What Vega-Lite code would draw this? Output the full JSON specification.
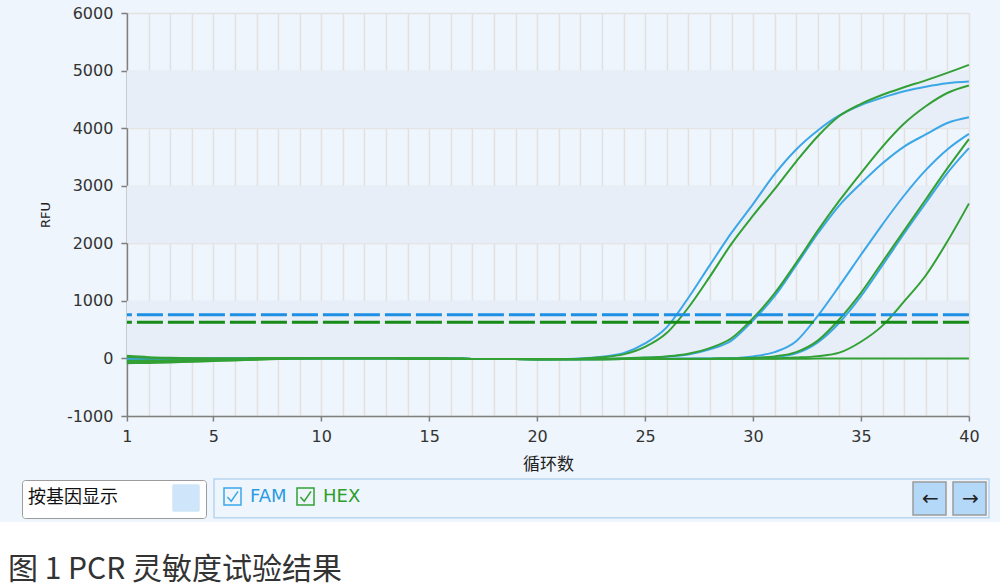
{
  "$schema": "https://vega.github.io/schema/vega-lite/v6.json",
  "background": "#EEF5FC",
  "padding": {"left": 0, "top": 5, "right": 0, "bottom": 0},
  "bounds": "full",
  "center": true,
  "spacing": 50,
  "config": {
    "font": "DejaVu Sans",
    "axis": {
      "labelFont": "DejaVu Sans",
      "labelFontSize": 16,
      "labelColor": "#333333",
      "domainColor": "#7F7F7F",
      "domainWidth": 1.5,
      "tickColor": "#7F7F7F",
      "tickWidth": 1.5,
      "gridColor": "#E3E1DF",
      "gridWidth": 1.5,
      "titleColor": "#222222",
      "titleFontWeight": "normal"
    },
    "legend": {"padding": 0}
  },
  "vconcat": [
    {
      "width": 842,
      "height": 403,
      "view": {"fill": "#EEF5FD", "stroke": null},
      "layer": [
        {
          "data": {"values": [{"lo": 4000, "hi": 5000}, {"lo": 2000, "hi": 3000}, {"lo": 0, "hi": 1000}]},
          "mark": {"type": "rect", "color": "#E7EEF7"},
          "encoding": {
            "y": {"field": "lo", "type": "quantitative", "scale": {"domain": [-1000, 6000], "nice": false, "zero": false}},
            "y2": {"field": "hi"}
          }
        },
        {
          "data": {"values": [
{"id":"F1","ch":"FAM","c":1,"v":15},{"id":"F1","ch":"FAM","c":2,"v":8},{"id":"F1","ch":"FAM","c":3,"v":3},{"id":"F1","ch":"FAM","c":4,"v":0},{"id":"F1","ch":"FAM","c":5,"v":0},{"id":"F1","ch":"FAM","c":6,"v":0},{"id":"F1","ch":"FAM","c":7,"v":2},{"id":"F1","ch":"FAM","c":8,"v":4},{"id":"F1","ch":"FAM","c":9,"v":5},{"id":"F1","ch":"FAM","c":10,"v":5},{"id":"F1","ch":"FAM","c":11,"v":5},{"id":"F1","ch":"FAM","c":12,"v":4},{"id":"F1","ch":"FAM","c":13,"v":2},{"id":"F1","ch":"FAM","c":14,"v":0},{"id":"F1","ch":"FAM","c":15,"v":-2},{"id":"F1","ch":"FAM","c":16,"v":-5},{"id":"F1","ch":"FAM","c":17,"v":-8},{"id":"F1","ch":"FAM","c":18,"v":-10},{"id":"F1","ch":"FAM","c":19,"v":-12},{"id":"F1","ch":"FAM","c":20,"v":-13},{"id":"F1","ch":"FAM","c":21,"v":-10},{"id":"F1","ch":"FAM","c":22,"v":0},{"id":"F1","ch":"FAM","c":23,"v":30},{"id":"F1","ch":"FAM","c":24,"v":90},{"id":"F1","ch":"FAM","c":25,"v":260},{"id":"F1","ch":"FAM","c":26,"v":540},{"id":"F1","ch":"FAM","c":27,"v":1050},{"id":"F1","ch":"FAM","c":28,"v":1620},{"id":"F1","ch":"FAM","c":29,"v":2180},{"id":"F1","ch":"FAM","c":30,"v":2680},{"id":"F1","ch":"FAM","c":31,"v":3200},{"id":"F1","ch":"FAM","c":32,"v":3630},{"id":"F1","ch":"FAM","c":33,"v":3960},{"id":"F1","ch":"FAM","c":34,"v":4220},{"id":"F1","ch":"FAM","c":35,"v":4400},{"id":"F1","ch":"FAM","c":36,"v":4530},{"id":"F1","ch":"FAM","c":37,"v":4640},{"id":"F1","ch":"FAM","c":38,"v":4720},{"id":"F1","ch":"FAM","c":39,"v":4780},{"id":"F1","ch":"FAM","c":40,"v":4810},
{"id":"F2","ch":"FAM","c":1,"v":-25},{"id":"F2","ch":"FAM","c":2,"v":-22},{"id":"F2","ch":"FAM","c":3,"v":-18},{"id":"F2","ch":"FAM","c":4,"v":-13},{"id":"F2","ch":"FAM","c":5,"v":-9},{"id":"F2","ch":"FAM","c":6,"v":-5},{"id":"F2","ch":"FAM","c":7,"v":0},{"id":"F2","ch":"FAM","c":8,"v":4},{"id":"F2","ch":"FAM","c":9,"v":5},{"id":"F2","ch":"FAM","c":10,"v":5},{"id":"F2","ch":"FAM","c":11,"v":5},{"id":"F2","ch":"FAM","c":12,"v":4},{"id":"F2","ch":"FAM","c":13,"v":2},{"id":"F2","ch":"FAM","c":14,"v":0},{"id":"F2","ch":"FAM","c":15,"v":-2},{"id":"F2","ch":"FAM","c":16,"v":-5},{"id":"F2","ch":"FAM","c":17,"v":-8},{"id":"F2","ch":"FAM","c":18,"v":-10},{"id":"F2","ch":"FAM","c":19,"v":-12},{"id":"F2","ch":"FAM","c":20,"v":-14},{"id":"F2","ch":"FAM","c":21,"v":-15},{"id":"F2","ch":"FAM","c":22,"v":-12},{"id":"F2","ch":"FAM","c":23,"v":-8},{"id":"F2","ch":"FAM","c":24,"v":0},{"id":"F2","ch":"FAM","c":25,"v":10},{"id":"F2","ch":"FAM","c":26,"v":30},{"id":"F2","ch":"FAM","c":27,"v":70},{"id":"F2","ch":"FAM","c":28,"v":160},{"id":"F2","ch":"FAM","c":29,"v":310},{"id":"F2","ch":"FAM","c":30,"v":660},{"id":"F2","ch":"FAM","c":31,"v":1080},{"id":"F2","ch":"FAM","c":32,"v":1620},{"id":"F2","ch":"FAM","c":33,"v":2170},{"id":"F2","ch":"FAM","c":34,"v":2660},{"id":"F2","ch":"FAM","c":35,"v":3040},{"id":"F2","ch":"FAM","c":36,"v":3390},{"id":"F2","ch":"FAM","c":37,"v":3680},{"id":"F2","ch":"FAM","c":38,"v":3890},{"id":"F2","ch":"FAM","c":39,"v":4090},{"id":"F2","ch":"FAM","c":40,"v":4190},
{"id":"F3","ch":"FAM","c":1,"v":-50},{"id":"F3","ch":"FAM","c":2,"v":-47},{"id":"F3","ch":"FAM","c":3,"v":-42},{"id":"F3","ch":"FAM","c":4,"v":-35},{"id":"F3","ch":"FAM","c":5,"v":-27},{"id":"F3","ch":"FAM","c":6,"v":-19},{"id":"F3","ch":"FAM","c":7,"v":-10},{"id":"F3","ch":"FAM","c":8,"v":-2},{"id":"F3","ch":"FAM","c":9,"v":3},{"id":"F3","ch":"FAM","c":10,"v":5},{"id":"F3","ch":"FAM","c":11,"v":5},{"id":"F3","ch":"FAM","c":12,"v":4},{"id":"F3","ch":"FAM","c":13,"v":2},{"id":"F3","ch":"FAM","c":14,"v":0},{"id":"F3","ch":"FAM","c":15,"v":-2},{"id":"F3","ch":"FAM","c":16,"v":-5},{"id":"F3","ch":"FAM","c":17,"v":-8},{"id":"F3","ch":"FAM","c":18,"v":-10},{"id":"F3","ch":"FAM","c":19,"v":-12},{"id":"F3","ch":"FAM","c":20,"v":-14},{"id":"F3","ch":"FAM","c":21,"v":-15},{"id":"F3","ch":"FAM","c":22,"v":-14},{"id":"F3","ch":"FAM","c":23,"v":-12},{"id":"F3","ch":"FAM","c":24,"v":-10},{"id":"F3","ch":"FAM","c":25,"v":-8},{"id":"F3","ch":"FAM","c":26,"v":-6},{"id":"F3","ch":"FAM","c":27,"v":-4},{"id":"F3","ch":"FAM","c":28,"v":-2},{"id":"F3","ch":"FAM","c":29,"v":5},{"id":"F3","ch":"FAM","c":30,"v":35},{"id":"F3","ch":"FAM","c":31,"v":110},{"id":"F3","ch":"FAM","c":32,"v":300},{"id":"F3","ch":"FAM","c":33,"v":740},{"id":"F3","ch":"FAM","c":34,"v":1260},{"id":"F3","ch":"FAM","c":35,"v":1800},{"id":"F3","ch":"FAM","c":36,"v":2330},{"id":"F3","ch":"FAM","c":37,"v":2830},{"id":"F3","ch":"FAM","c":38,"v":3270},{"id":"F3","ch":"FAM","c":39,"v":3630},{"id":"F3","ch":"FAM","c":40,"v":3900},
{"id":"F4","ch":"FAM","c":1,"v":0},{"id":"F4","ch":"FAM","c":2,"v":0},{"id":"F4","ch":"FAM","c":3,"v":0},{"id":"F4","ch":"FAM","c":4,"v":0},{"id":"F4","ch":"FAM","c":5,"v":0},{"id":"F4","ch":"FAM","c":6,"v":0},{"id":"F4","ch":"FAM","c":7,"v":2},{"id":"F4","ch":"FAM","c":8,"v":4},{"id":"F4","ch":"FAM","c":9,"v":5},{"id":"F4","ch":"FAM","c":10,"v":5},{"id":"F4","ch":"FAM","c":11,"v":5},{"id":"F4","ch":"FAM","c":12,"v":4},{"id":"F4","ch":"FAM","c":13,"v":2},{"id":"F4","ch":"FAM","c":14,"v":0},{"id":"F4","ch":"FAM","c":15,"v":-2},{"id":"F4","ch":"FAM","c":16,"v":-5},{"id":"F4","ch":"FAM","c":17,"v":-8},{"id":"F4","ch":"FAM","c":18,"v":-10},{"id":"F4","ch":"FAM","c":19,"v":-12},{"id":"F4","ch":"FAM","c":20,"v":-14},{"id":"F4","ch":"FAM","c":21,"v":-15},{"id":"F4","ch":"FAM","c":22,"v":-14},{"id":"F4","ch":"FAM","c":23,"v":-13},{"id":"F4","ch":"FAM","c":24,"v":-12},{"id":"F4","ch":"FAM","c":25,"v":-10},{"id":"F4","ch":"FAM","c":26,"v":-8},{"id":"F4","ch":"FAM","c":27,"v":-6},{"id":"F4","ch":"FAM","c":28,"v":-4},{"id":"F4","ch":"FAM","c":29,"v":-2},{"id":"F4","ch":"FAM","c":30,"v":5},{"id":"F4","ch":"FAM","c":31,"v":25},{"id":"F4","ch":"FAM","c":32,"v":90},{"id":"F4","ch":"FAM","c":33,"v":280},{"id":"F4","ch":"FAM","c":34,"v":620},{"id":"F4","ch":"FAM","c":35,"v":1080},{"id":"F4","ch":"FAM","c":36,"v":1620},{"id":"F4","ch":"FAM","c":37,"v":2170},{"id":"F4","ch":"FAM","c":38,"v":2700},{"id":"F4","ch":"FAM","c":39,"v":3220},{"id":"F4","ch":"FAM","c":40,"v":3653},
{"id":"H1","ch":"HEX","c":1,"v":45},{"id":"H1","ch":"HEX","c":2,"v":22},{"id":"H1","ch":"HEX","c":3,"v":10},{"id":"H1","ch":"HEX","c":4,"v":4},{"id":"H1","ch":"HEX","c":5,"v":0},{"id":"H1","ch":"HEX","c":6,"v":0},{"id":"H1","ch":"HEX","c":7,"v":2},{"id":"H1","ch":"HEX","c":8,"v":4},{"id":"H1","ch":"HEX","c":9,"v":5},{"id":"H1","ch":"HEX","c":10,"v":5},{"id":"H1","ch":"HEX","c":11,"v":5},{"id":"H1","ch":"HEX","c":12,"v":4},{"id":"H1","ch":"HEX","c":13,"v":2},{"id":"H1","ch":"HEX","c":14,"v":0},{"id":"H1","ch":"HEX","c":15,"v":-2},{"id":"H1","ch":"HEX","c":16,"v":-5},{"id":"H1","ch":"HEX","c":17,"v":-8},{"id":"H1","ch":"HEX","c":18,"v":-10},{"id":"H1","ch":"HEX","c":19,"v":-12},{"id":"H1","ch":"HEX","c":20,"v":-14},{"id":"H1","ch":"HEX","c":21,"v":-12},{"id":"H1","ch":"HEX","c":22,"v":-5},{"id":"H1","ch":"HEX","c":23,"v":20},{"id":"H1","ch":"HEX","c":24,"v":70},{"id":"H1","ch":"HEX","c":25,"v":200},{"id":"H1","ch":"HEX","c":26,"v":440},{"id":"H1","ch":"HEX","c":27,"v":880},{"id":"H1","ch":"HEX","c":28,"v":1420},{"id":"H1","ch":"HEX","c":29,"v":1990},{"id":"H1","ch":"HEX","c":30,"v":2480},{"id":"H1","ch":"HEX","c":31,"v":2940},{"id":"H1","ch":"HEX","c":32,"v":3420},{"id":"H1","ch":"HEX","c":33,"v":3860},{"id":"H1","ch":"HEX","c":34,"v":4210},{"id":"H1","ch":"HEX","c":35,"v":4420},{"id":"H1","ch":"HEX","c":36,"v":4580},{"id":"H1","ch":"HEX","c":37,"v":4710},{"id":"H1","ch":"HEX","c":38,"v":4830},{"id":"H1","ch":"HEX","c":39,"v":4960},{"id":"H1","ch":"HEX","c":40,"v":5100},
{"id":"H2","ch":"HEX","c":1,"v":-82},{"id":"H2","ch":"HEX","c":2,"v":-78},{"id":"H2","ch":"HEX","c":3,"v":-70},{"id":"H2","ch":"HEX","c":4,"v":-58},{"id":"H2","ch":"HEX","c":5,"v":-46},{"id":"H2","ch":"HEX","c":6,"v":-34},{"id":"H2","ch":"HEX","c":7,"v":-21},{"id":"H2","ch":"HEX","c":8,"v":-10},{"id":"H2","ch":"HEX","c":9,"v":-1},{"id":"H2","ch":"HEX","c":10,"v":5},{"id":"H2","ch":"HEX","c":11,"v":5},{"id":"H2","ch":"HEX","c":12,"v":4},{"id":"H2","ch":"HEX","c":13,"v":2},{"id":"H2","ch":"HEX","c":14,"v":0},{"id":"H2","ch":"HEX","c":15,"v":-2},{"id":"H2","ch":"HEX","c":16,"v":-5},{"id":"H2","ch":"HEX","c":17,"v":-8},{"id":"H2","ch":"HEX","c":18,"v":-10},{"id":"H2","ch":"HEX","c":19,"v":-12},{"id":"H2","ch":"HEX","c":20,"v":-14},{"id":"H2","ch":"HEX","c":21,"v":-15},{"id":"H2","ch":"HEX","c":22,"v":-12},{"id":"H2","ch":"HEX","c":23,"v":-6},{"id":"H2","ch":"HEX","c":24,"v":2},{"id":"H2","ch":"HEX","c":25,"v":15},{"id":"H2","ch":"HEX","c":26,"v":35},{"id":"H2","ch":"HEX","c":27,"v":80},{"id":"H2","ch":"HEX","c":28,"v":180},{"id":"H2","ch":"HEX","c":29,"v":350},{"id":"H2","ch":"HEX","c":30,"v":700},{"id":"H2","ch":"HEX","c":31,"v":1130},{"id":"H2","ch":"HEX","c":32,"v":1660},{"id":"H2","ch":"HEX","c":33,"v":2220},{"id":"H2","ch":"HEX","c":34,"v":2740},{"id":"H2","ch":"HEX","c":35,"v":3220},{"id":"H2","ch":"HEX","c":36,"v":3680},{"id":"H2","ch":"HEX","c":37,"v":4080},{"id":"H2","ch":"HEX","c":38,"v":4380},{"id":"H2","ch":"HEX","c":39,"v":4610},{"id":"H2","ch":"HEX","c":40,"v":4740},
{"id":"H3","ch":"HEX","c":1,"v":-65},{"id":"H3","ch":"HEX","c":2,"v":-62},{"id":"H3","ch":"HEX","c":3,"v":-57},{"id":"H3","ch":"HEX","c":4,"v":-48},{"id":"H3","ch":"HEX","c":5,"v":-38},{"id":"H3","ch":"HEX","c":6,"v":-28},{"id":"H3","ch":"HEX","c":7,"v":-17},{"id":"H3","ch":"HEX","c":8,"v":-7},{"id":"H3","ch":"HEX","c":9,"v":0},{"id":"H3","ch":"HEX","c":10,"v":5},{"id":"H3","ch":"HEX","c":11,"v":5},{"id":"H3","ch":"HEX","c":12,"v":4},{"id":"H3","ch":"HEX","c":13,"v":2},{"id":"H3","ch":"HEX","c":14,"v":0},{"id":"H3","ch":"HEX","c":15,"v":-2},{"id":"H3","ch":"HEX","c":16,"v":-5},{"id":"H3","ch":"HEX","c":17,"v":-8},{"id":"H3","ch":"HEX","c":18,"v":-10},{"id":"H3","ch":"HEX","c":19,"v":-12},{"id":"H3","ch":"HEX","c":20,"v":-14},{"id":"H3","ch":"HEX","c":21,"v":-15},{"id":"H3","ch":"HEX","c":22,"v":-14},{"id":"H3","ch":"HEX","c":23,"v":-13},{"id":"H3","ch":"HEX","c":24,"v":-12},{"id":"H3","ch":"HEX","c":25,"v":-10},{"id":"H3","ch":"HEX","c":26,"v":-8},{"id":"H3","ch":"HEX","c":27,"v":-6},{"id":"H3","ch":"HEX","c":28,"v":-4},{"id":"H3","ch":"HEX","c":29,"v":0},{"id":"H3","ch":"HEX","c":30,"v":10},{"id":"H3","ch":"HEX","c":31,"v":35},{"id":"H3","ch":"HEX","c":32,"v":110},{"id":"H3","ch":"HEX","c":33,"v":310},{"id":"H3","ch":"HEX","c":34,"v":680},{"id":"H3","ch":"HEX","c":35,"v":1140},{"id":"H3","ch":"HEX","c":36,"v":1680},{"id":"H3","ch":"HEX","c":37,"v":2220},{"id":"H3","ch":"HEX","c":38,"v":2760},{"id":"H3","ch":"HEX","c":39,"v":3300},{"id":"H3","ch":"HEX","c":40,"v":3810},
{"id":"H4","ch":"HEX","c":1,"v":25},{"id":"H4","ch":"HEX","c":2,"v":12},{"id":"H4","ch":"HEX","c":3,"v":5},{"id":"H4","ch":"HEX","c":4,"v":0},{"id":"H4","ch":"HEX","c":5,"v":0},{"id":"H4","ch":"HEX","c":6,"v":0},{"id":"H4","ch":"HEX","c":7,"v":2},{"id":"H4","ch":"HEX","c":8,"v":4},{"id":"H4","ch":"HEX","c":9,"v":5},{"id":"H4","ch":"HEX","c":10,"v":5},{"id":"H4","ch":"HEX","c":11,"v":5},{"id":"H4","ch":"HEX","c":12,"v":4},{"id":"H4","ch":"HEX","c":13,"v":2},{"id":"H4","ch":"HEX","c":14,"v":0},{"id":"H4","ch":"HEX","c":15,"v":-2},{"id":"H4","ch":"HEX","c":16,"v":-5},{"id":"H4","ch":"HEX","c":17,"v":-8},{"id":"H4","ch":"HEX","c":18,"v":-10},{"id":"H4","ch":"HEX","c":19,"v":-12},{"id":"H4","ch":"HEX","c":20,"v":-14},{"id":"H4","ch":"HEX","c":21,"v":-15},{"id":"H4","ch":"HEX","c":22,"v":-14},{"id":"H4","ch":"HEX","c":23,"v":-13},{"id":"H4","ch":"HEX","c":24,"v":-12},{"id":"H4","ch":"HEX","c":25,"v":-11},{"id":"H4","ch":"HEX","c":26,"v":-10},{"id":"H4","ch":"HEX","c":27,"v":-9},{"id":"H4","ch":"HEX","c":28,"v":-8},{"id":"H4","ch":"HEX","c":29,"v":-6},{"id":"H4","ch":"HEX","c":30,"v":-4},{"id":"H4","ch":"HEX","c":31,"v":0},{"id":"H4","ch":"HEX","c":32,"v":15},{"id":"H4","ch":"HEX","c":33,"v":40},{"id":"H4","ch":"HEX","c":34,"v":100},{"id":"H4","ch":"HEX","c":35,"v":290},{"id":"H4","ch":"HEX","c":36,"v":570},{"id":"H4","ch":"HEX","c":37,"v":990},{"id":"H4","ch":"HEX","c":38,"v":1440},{"id":"H4","ch":"HEX","c":39,"v":2030},{"id":"H4","ch":"HEX","c":40,"v":2690},
{"id":"H5","ch":"HEX","c":1,"v":-40},{"id":"H5","ch":"HEX","c":2,"v":-37},{"id":"H5","ch":"HEX","c":3,"v":-32},{"id":"H5","ch":"HEX","c":4,"v":-26},{"id":"H5","ch":"HEX","c":5,"v":-19},{"id":"H5","ch":"HEX","c":6,"v":-13},{"id":"H5","ch":"HEX","c":7,"v":-6},{"id":"H5","ch":"HEX","c":8,"v":0},{"id":"H5","ch":"HEX","c":9,"v":5},{"id":"H5","ch":"HEX","c":10,"v":5},{"id":"H5","ch":"HEX","c":11,"v":5},{"id":"H5","ch":"HEX","c":12,"v":4},{"id":"H5","ch":"HEX","c":13,"v":2},{"id":"H5","ch":"HEX","c":14,"v":0},{"id":"H5","ch":"HEX","c":15,"v":-2},{"id":"H5","ch":"HEX","c":16,"v":-5},{"id":"H5","ch":"HEX","c":17,"v":-8},{"id":"H5","ch":"HEX","c":18,"v":-10},{"id":"H5","ch":"HEX","c":19,"v":-12},{"id":"H5","ch":"HEX","c":20,"v":-14},{"id":"H5","ch":"HEX","c":21,"v":-15},{"id":"H5","ch":"HEX","c":22,"v":-14},{"id":"H5","ch":"HEX","c":23,"v":-13},{"id":"H5","ch":"HEX","c":24,"v":-12},{"id":"H5","ch":"HEX","c":25,"v":-11},{"id":"H5","ch":"HEX","c":26,"v":-10},{"id":"H5","ch":"HEX","c":27,"v":-9},{"id":"H5","ch":"HEX","c":28,"v":-8},{"id":"H5","ch":"HEX","c":29,"v":-7},{"id":"H5","ch":"HEX","c":30,"v":-6},{"id":"H5","ch":"HEX","c":31,"v":-5},{"id":"H5","ch":"HEX","c":32,"v":-4},{"id":"H5","ch":"HEX","c":33,"v":-3},{"id":"H5","ch":"HEX","c":34,"v":-2},{"id":"H5","ch":"HEX","c":35,"v":-1},{"id":"H5","ch":"HEX","c":36,"v":0},{"id":"H5","ch":"HEX","c":37,"v":0},{"id":"H5","ch":"HEX","c":38,"v":0},{"id":"H5","ch":"HEX","c":39,"v":0},{"id":"H5","ch":"HEX","c":40,"v":0}
          ]},
          "mark": {"type": "line", "interpolate": "monotone", "strokeWidth": 2},
          "encoding": {
            "x": {
              "field": "c", "type": "quantitative",
              "scale": {"domain": [1, 40], "nice": false, "zero": false},
              "axis": {
                "values": [1,2,3,4,5,6,7,8,9,10,11,12,13,14,15,16,17,18,19,20,21,22,23,24,25,26,27,28,29,30,31,32,33,34,35,36,37,38,39,40],
                "labelExpr": "(datum.value === 1 || datum.value % 5 === 0) ? datum.label : ''",
                "tickOpacity": {"condition": {"test": "datum.value === 1 || datum.value % 5 === 0", "value": 1}, "value": 0},
                "labelOverlap": false,
                "labelFlush": false,
                "tickSize": 5,
                "labelPadding": 7,
                "title": "循环数",
                "titleFont": "Noto Sans CJK SC",
                "titleFontSize": 17,
                "titlePadding": 12
              }
            },
            "y": {
              "field": "v", "type": "quantitative",
              "scale": {"domain": [-1000, 6000], "nice": false, "zero": false},
              "axis": {
                "values": [-1000, 0, 1000, 2000, 3000, 4000, 5000, 6000],
                "labelExpr": "'' + datum.value",
                "tickSize": 6,
                "labelPadding": 8,
                "labelFlush": false,
                "title": "RFU",
                "titleFont": "DejaVu Sans",
                "titleFontSize": 13,
                "titlePadding": 14
              }
            },
            "color": {
              "field": "ch", "type": "nominal",
              "scale": {"domain": ["FAM", "HEX"], "range": ["#3BA7E7", "#33A035"]},
              "legend": {
                "orient": "none", "legendX": 223, "legendY": 474,
                "direction": "horizontal", "title": null, "padding": 0,
                "symbolType": "M-1,-1H1V1H-1ZM-0.6,0.05L-0.15,0.55L0.65,-0.6",
                "symbolSize": 289, "symbolStrokeWidth": 1.5,
                "labelFont": "DejaVu Sans", "labelFontSize": 18,
                "labelOffset": 8, "columnPadding": 7,
                "encode": {
                  "labels": {"update": {"fill": {"signal": "datum.value === 'FAM' ? '#2B9BE3' : '#2E9E2E'"}}}
                }
              }
            },
            "detail": {"field": "id"}
          }
        },
        {
          "data": {"values": [{"ch": "FAM", "thr": 760}, {"ch": "HEX", "thr": 630}]},
          "mark": {"type": "rule", "strokeDash": [26, 5], "strokeWidth": 3},
          "encoding": {
            "y": {"field": "thr", "type": "quantitative", "scale": {"domain": [-1000, 6000], "nice": false, "zero": false}},
            "color": {"condition": {"test": "datum.ch === 'FAM'", "value": "#1E8FE3"}, "value": "#178A17"}
          }
        },
        {
          "data": {"values": [{"ch": "FAM"}]},
          "mark": {"type": "point", "clip": true, "filled": false, "stroke": "#B8D5EF", "strokeWidth": 1.5},
          "encoding": {
            "y": {"datum": 7000, "type": "quantitative", "scale": {"domain": [-1000, 6000], "nice": false, "zero": false}},
            "opacity": {
              "datum": "T", "type": "nominal",
              "scale": {"domain": ["T"], "range": [1]},
              "legend": {
                "orient": "none", "legendX": 213, "legendY": 465,
                "title": null, "padding": 0,
                "symbolType": "M-1,-1H1V-0.9H-1Z", "symbolSize": 600625,
                "labelExpr": "''",
                "labelOffset": 0, "labelFontSize": 1, "labelColor": "transparent"
              }
            }
          }
        },
        {
          "data": {"values": [{"ch": "FAM"}]},
          "mark": {"type": "point", "clip": true, "filled": true, "fill": "#BBDCF8", "stroke": "#BBDCF8"},
          "encoding": {
            "y": {"datum": 7000, "type": "quantitative", "scale": {"domain": [-1000, 6000], "nice": false, "zero": false}},
            "strokeDash": {
              "datum": "按基因显示", "type": "nominal",
              "scale": {"domain": ["按基因显示"], "range": [[1, 0]]},
              "legend": {
                "orient": "none", "legendX": 22, "legendY": 467,
                "title": null, "padding": 4,
                "fillColor": "#FFFFFF", "strokeColor": "#9C9C9C", "cornerRadius": 3,
                "symbolType": "square", "symbolSize": 676,
                "labelFont": "Noto Sans CJK SC", "labelFontSize": 18, "labelColor": "#111111",
                "labelOffset": -172, "symbolOffset": 146
              }
            }
          }
        },
        {
          "data": {"values": [{"ch": "FAM"}]},
          "mark": {"type": "point", "clip": true, "filled": true, "fill": "#B3D8F8", "stroke": "#9A9A9A", "strokeWidth": 2, "opacity": 1},
          "encoding": {
            "y": {"datum": 7000, "type": "quantitative", "scale": {"domain": [-1000, 6000], "nice": false, "zero": false}},
            "shape": {
              "datum": "←", "type": "nominal",
              "scale": {"domain": ["←", "→"], "range": ["square", "square"]},
              "legend": {
                "orient": "none", "legendX": 912, "legendY": 468,
                "direction": "horizontal", "title": null, "padding": 0,
                "symbolSize": 1089,
                "labelFont": "DejaVu Sans", "labelFontSize": 20, "labelColor": "#222222",
                "labelOffset": -25, "columnPadding": 1
              }
            }
          }
        }
      ]
    },
    {
      "width": 1106,
      "height": 67,
      "view": {"fill": "#FFFFFF", "stroke": null},
      "data": {"values": [{}]},
      "mark": {"type": "text"},
      "encoding": {"text": {"value": ""}},
      "title": {
        "text": "图 1 PCR 灵敏度试验结果",
        "orient": "bottom", "anchor": "start", "frame": "group",
        "offset": -34, "baseline": "top", "dx": 8,
        "font": "Noto Sans CJK SC", "fontSize": 30, "fontWeight": "normal", "color": "#333333"
      }
    }
  ]
}
